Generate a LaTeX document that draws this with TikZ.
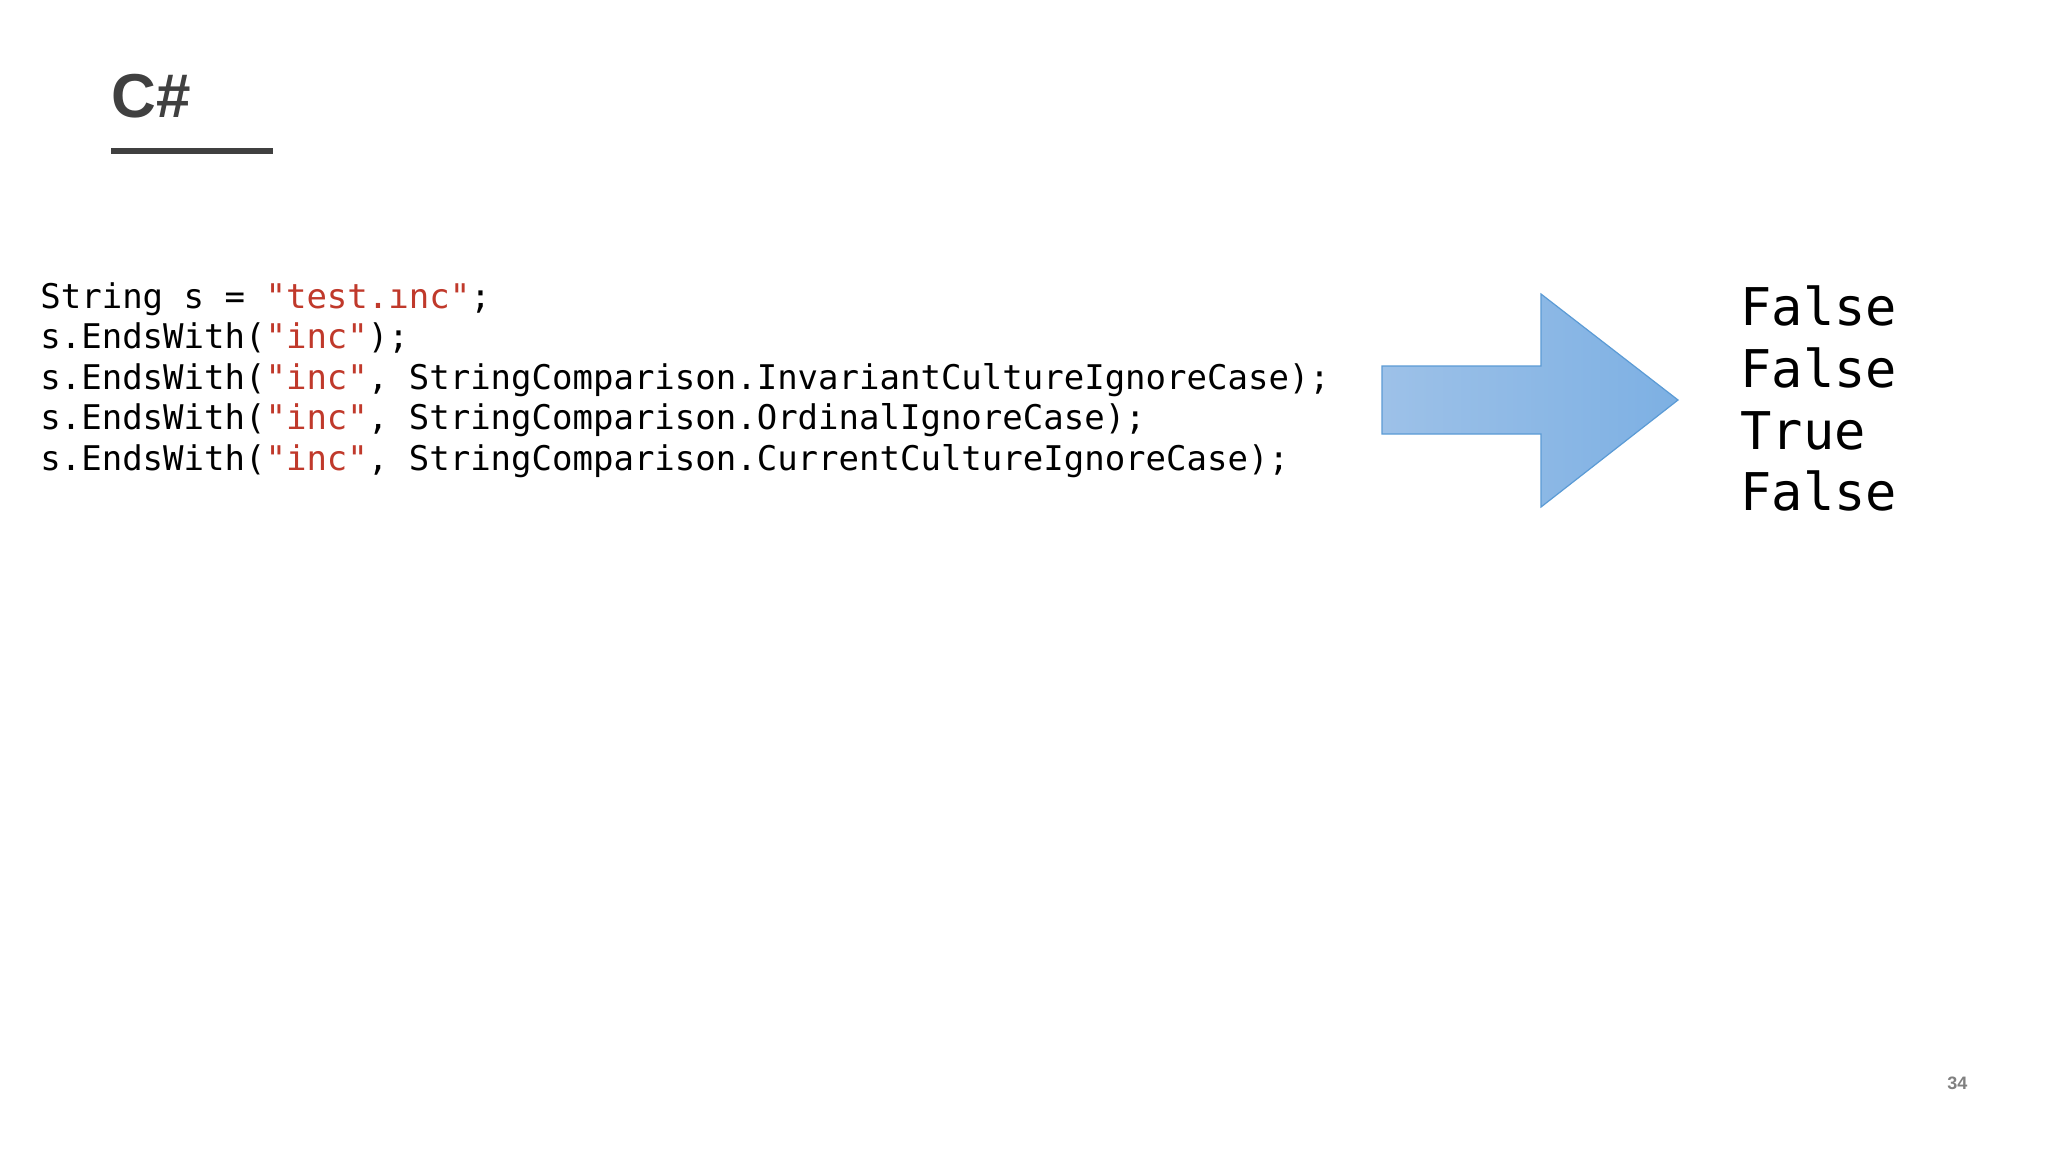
\documentclass[tikz,border=0pt]{standalone}
\usepackage{fontspec}
\setmainfont{Liberation Sans}
\setmonofont{DejaVu Sans Mono}
\begin{document}
\begin{tikzpicture}[x=0.5pt,y=-0.5pt,
  code/.style={anchor=base west,inner sep=0,font=\fontsize{17}{20}\ttfamily},
  res/.style={anchor=base west,inner sep=0,font=\fontsize{26}{30}\ttfamily}]
\definecolor{str}{HTML}{C0392B}
\definecolor{title}{HTML}{404040}
\definecolor{arA}{HTML}{9DC1E8}
\definecolor{arB}{HTML}{7DB0E3}
\definecolor{arC}{HTML}{5B9BD5}
\useasboundingbox[fill=white] (0,0) rectangle (2048,1152);
\node[anchor=base west,inner sep=0,font=\fontsize{31}{36}\bfseries,text=title] (t) at (111,117) {C\#};
\draw[title,line width=3pt] (111,151) -- (273,151);
\newcommand{\q}[1]{\textcolor{str}{"#1"}}
\node[code] (l1) at (40,308) {String s = \q{test.ınc};};
\node[code] (l2) at (40,348.5) {s.EndsWith(\q{inc});};
\node[code] (l3) at (40,389) {s.EndsWith(\q{inc}, StringComparison.InvariantCultureIgnoreCase);};
\node[code] (l4) at (40,429.5) {s.EndsWith(\q{inc}, StringComparison.OrdinalIgnoreCase);};
\node[code] (l5) at (40,470) {s.EndsWith(\q{inc}, StringComparison.CurrentCultureIgnoreCase);};
\shade[left color=arA,right color=arB,draw=arC,line width=0.6pt]
  (1382,366) -- (1541,366) -- (1541,294) -- (1678,400) -- (1541,507) -- (1541,434) -- (1382,434) -- cycle;
\node[res] (r1) at (1740,325) {False};
\node[res] (r2) at (1740,387) {False};
\node[res] (r3) at (1740,449) {True};
\node[res] (r4) at (1740,510) {False};
\node[anchor=base west,inner sep=0,font=\fontsize{9}{11}\bfseries,text=gray] (pg) at (1947,1089) {34};
\end{tikzpicture}
\end{document}
